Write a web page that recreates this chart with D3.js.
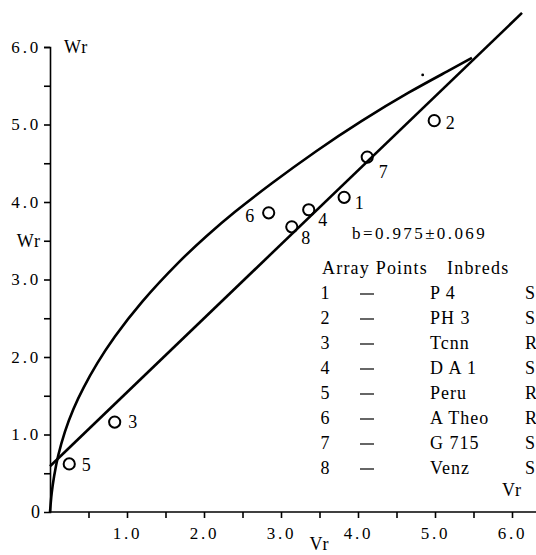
<!DOCTYPE html>
<html>
<head>
<meta charset="utf-8">
<script src="https://cdn.jsdelivr.net/npm/d3@7"></script>
<style>
  body { margin: 0; background: #fff; }
  svg text { font-family: "Liberation Serif", "Times New Roman", serif; fill: #000; }
</style>
</head>
<body>
<svg id="chart" width="536" height="555" font-family="Liberation Serif, serif"></svg>
<script>
/*** Data ***/
var arrayIds = [1, 2, 3, 4, 5, 6, 7, 8];
var vr = [3.82, 4.99, 0.84, 3.36, 0.25, 2.84, 4.12, 3.14];
var wr = [4.06, 5.05, 1.16, 3.90, 0.62, 3.86, 4.58, 3.68];
var inbreds = ["P 4", "PH 3", "Tcnn", "D A 1", "Peru", "A Theo", "G 715", "Venz"];
var reaction = ["S", "S", "R", "S", "R", "R", "S", "S"];

// limiting parabola, traced point by point
var curveVr = [0, 0.02, 0.05, 0.10, 0.19, 0.30, 0.43, 0.61, 0.82, 1.17, 1.69, 2.04, 2.38, 2.86, 3.47, 4.03, 4.68, 5.19, 5.48];
var curveWr = [0, 0.25, 0.45, 0.72, 1.04, 1.33, 1.60, 1.92, 2.24, 2.70, 3.25, 3.57, 3.86, 4.23, 4.67, 5.04, 5.43, 5.70, 5.86];

// regression line end points
var lineVr = [0, 6.13];
var lineWr = [0.59, 6.44];

var speckVr = [4.84], speckWr = [5.64];

var axisTicks = [0.5, 1, 1.5, 2, 2.5, 3, 3.5, 4, 4.5, 5, 5.5, 6];
var slopeText = "b=0.975\u00b10.069";
var headerText = ["Array Points", "Inbreds"];

/*** Layout ***/
var width = 536, height = 555;
var svg = d3.select("#chart");

var x = d3.scaleLinear().domain([0, 6]).range([50, 512]);
var y = d3.scaleLinear().domain([0, 6]).range([512, 47]);

// label offsets (px) for each point number
var labelOffset = [[15, 5], [16, 2], [18, 0], [14, 10], [17, 1], [-19, 3], [16, 15], [14, 11]];

/*** Axes ***/
var yAxis = svg.append("g")
  .attr("transform", "translate(" + x(0) + ",0)")
  .call(d3.axisLeft(y).tickValues(axisTicks).tickSizeOuter(0).tickSize(6).tickPadding(3)
    .tickFormat(d => d === 3.5 ? "Wr" : (Number.isInteger(d) ? d.toFixed(1) : "")));

var xAxis = svg.append("g")
  .attr("transform", "translate(0," + y(0) + ")")
  .call(d3.axisBottom(x).tickValues(axisTicks).tickSizeOuter(0).tickSize(6).tickPadding(9)
    .tickFormat(d => Number.isInteger(d) ? d.toFixed(1) : ""));
xAxis.select(".domain").attr("d", "M" + x(0) + ",0H" + width);

[yAxis, xAxis].forEach(a => {
  a.attr("font-family", null);
  a.selectAll(".domain, line").attr("stroke", "#000").attr("stroke-width", 1.6);
  a.selectAll("text").attr("font-size", "17px").attr("letter-spacing", "2.8px").attr("fill", "#000");
});
yAxis.selectAll("text").filter(d => d === 3.5).attr("font-size", "18px").attr("letter-spacing", "1px");

svg.append("text").attr("x", 40).attr("y", y(0)).attr("dy", "0.32em")
  .attr("text-anchor", "end").attr("font-size", "18px").text("0");
svg.append("text").attr("x", 64).attr("y", y(6)).attr("dy", "0.32em")
  .attr("font-size", "18px").attr("letter-spacing", "1px").text("Wr");
svg.append("text").attr("x", x(3.5)).attr("y", 550)
  .attr("text-anchor", "middle").attr("font-size", "18px").attr("letter-spacing", "1px").text("Vr");
svg.append("text").attr("x", x(6)).attr("y", 496)
  .attr("text-anchor", "middle").attr("font-size", "18px").attr("letter-spacing", "1px").text("Vr");

/*** Curves ***/
var curvePts = curveVr.map((v, i) => [v, curveWr[i]]);
var linePts = lineVr.map((v, i) => [v, lineWr[i]]);

svg.append("path").datum(curvePts)
  .attr("d", d3.line().x(d => x(d[0])).y(d => y(d[1])).curve(d3.curveBasis))
  .attr("fill", "none").attr("stroke", "#000").attr("stroke-width", 2.6);
svg.append("path").datum(linePts)
  .attr("d", d3.line().x(d => x(d[0])).y(d => y(d[1])))
  .attr("fill", "none").attr("stroke", "#000").attr("stroke-width", 2.6);

svg.selectAll(".speck").data(speckVr).enter().append("circle")
  .attr("cx", d => x(d)).attr("cy", (d, i) => y(speckWr[i])).attr("r", 1.4).attr("fill", "#000");

/*** Points ***/
var pts = arrayIds.map((id, i) => ({id: id, vr: vr[i], wr: wr[i], off: labelOffset[i]}));
svg.append("g").selectAll("circle").data(pts).enter().append("circle")
  .attr("cx", d => x(d.vr)).attr("cy", d => y(d.wr)).attr("r", 5.6)
  .attr("fill", "none").attr("stroke", "#000").attr("stroke-width", 2);
svg.append("g").selectAll("text").data(pts).enter().append("text")
  .attr("x", d => x(d.vr) + d.off[0]).attr("y", d => y(d.wr) + d.off[1])
  .attr("dy", "0.35em").attr("text-anchor", "middle").attr("font-size", "18px")
  .text(d => d.id);

/*** Legend table ***/
svg.append("text").attr("x", 352).attr("y", 233).attr("dy", "0.35em")
  .attr("font-size", "17px").attr("letter-spacing", "2.4px").text(slopeText);
svg.append("text").attr("x", 322).attr("y", 268).attr("dy", "0.35em")
  .attr("font-size", "18px").attr("letter-spacing", "1.2px").text(headerText[0]);
svg.append("text").attr("x", 447).attr("y", 268).attr("dy", "0.35em")
  .attr("font-size", "18px").attr("letter-spacing", "1.2px").text(headerText[1]);

var rowY = d3.scalePoint().domain(arrayIds).range([293, 468]);
var rows = svg.append("g").selectAll("g").data(pts).enter().append("g")
  .attr("transform", d => "translate(0," + rowY(d.id) + ")");
rows.append("text").attr("x", 325).attr("dy", "0.35em").attr("text-anchor", "middle")
  .attr("font-size", "18px").text(d => d.id);
rows.append("line").attr("x1", 360).attr("x2", 374).attr("y1", 1).attr("y2", 1)
  .attr("stroke", "#000").attr("stroke-width", 1.2);
rows.append("text").attr("x", 430).attr("dy", "0.35em")
  .attr("font-size", "18px").attr("letter-spacing", "1px").text((d, i) => inbreds[i]);
rows.append("text").attr("x", 525).attr("dy", "0.35em")
  .attr("font-size", "18px").text((d, i) => reaction[i]);
</script>
</body>
</html>
